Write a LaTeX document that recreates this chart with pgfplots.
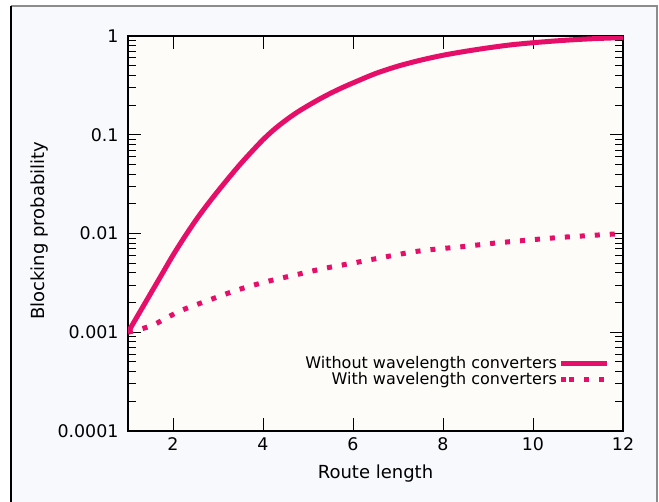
\documentclass[border=0pt]{standalone}
\usepackage{fontspec}
\setmainfont{DejaVu Sans}
\usepackage{pgfplots}
\pgfplotsset{compat=1.18}
\definecolor{curve}{RGB}{230,14,104}
\definecolor{outerbg}{RGB}{248,249,252}
\definecolor{plotbg}{RGB}{253,252,249}
\begin{document}
\begin{tikzpicture}[x=1pt,y=1pt]
\useasboundingbox (0,0) rectangle (659,501);
\fill[white] (0,0) rectangle (659,501);
\fill[outerbg] (11,-5) rectangle (657,495);
\draw[black!45, line width=1.5pt] (11,495) -- (657,495) -- (657,-5);
\draw[black, line width=1.5pt] (11,495) -- (11,-5);
\begin{axis}[
  at={(128pt,70pt)}, anchor=south west,
  scale only axis, width=495pt, height=395pt,
  xmin=1, xmax=12, ymode=log, ymin=1e-4, ymax=1,
  xtick={2,4,6,8,10,12},
  xticklabels={2,4,6,8,10,12},
  ytick={1e-4,1e-3,1e-2,1e-1,1},
  yticklabels={0.0001,0.001,0.01,0.1,1},
  /pgf/number format/assume math mode=true,
  tick pos=both,
  major tick length=13pt, minor tick length=8pt,
  tick style={line width=1pt, black},
  axis line style={line width=1.2pt},
  axis background/.style={fill=plotbg},
  font=\fontsize{17.4}{20}\selectfont,
  ticklabel style={font=\fontsize{17.4}{20}\selectfont},
  yticklabel style={xshift=-6pt},
  xticklabel style={yshift=-3pt},
  xlabel={Route length},
  ylabel={Blocking probability},
  label style={font=\fontsize{18}{21}\selectfont},
  xlabel style={at={(axis description cs:0.5,-0.12)}, anchor=base},
  ylabel style={at={(axis description cs:-0.178,0.507)}, anchor=center, rotate=0},
  legend plot pos=right,
  legend cell align=right,
  legend style={at={(axis description cs:0.974,0.151)}, anchor=east, draw=none, fill=none,
    font=\fontsize{16}{19}\selectfont, row sep=-2pt, inner sep=0pt},
  legend image code/.code={\path (0pt,0pt) -- (8pt,0pt); \draw[#1] (8pt,0pt) -- (46pt,0pt);},
]
\addplot[curve, line width=5pt, smooth] coordinates {
(1,0.001) (1.25,0.001567) (1.5,0.002455) (1.75,0.003846) (2,0.006026) (2.25,0.00912)
(2.5,0.01349) (2.75,0.01928) (3,0.02692) (3.25,0.03715) (3.5,0.05070) (3.75,0.06761)
(4,0.08913) (4.25,0.1135) (4.5,0.1396) (4.75,0.1679) (5,0.1972) (5.25,0.2291)
(5.5,0.2630) (5.75,0.2985) (6,0.3350) (6.5,0.4169) (7,0.4955) (7.5,0.5689)
(8,0.6383) (8.5,0.6998) (9,0.7586) (9.5,0.8128) (10,0.8551) (10.5,0.8913)
(11,0.9226) (11.5,0.9462) (12,0.9638)
};
\addlegendentry{Without wavelength converters}
\addplot[curve, line width=5pt, line cap=butt, dash pattern=on 5pt off 10pt, smooth] coordinates {
(1,0.001) (1.53,0.00117) (2.14,0.00163) (2.78,0.0021) (3.42,0.00267) (4.06,0.00324)
(4.72,0.00381) (5.38,0.00445) (6.04,0.00506) (7.38,0.00656) (8.43,0.00736)
(9.12,0.00797) (9.81,0.00851) (10.52,0.00907) (11.24,0.00953) (12,0.0100)
};
\addlegendentry{With wavelength converters}
\end{axis}
\end{tikzpicture}
\end{document}
